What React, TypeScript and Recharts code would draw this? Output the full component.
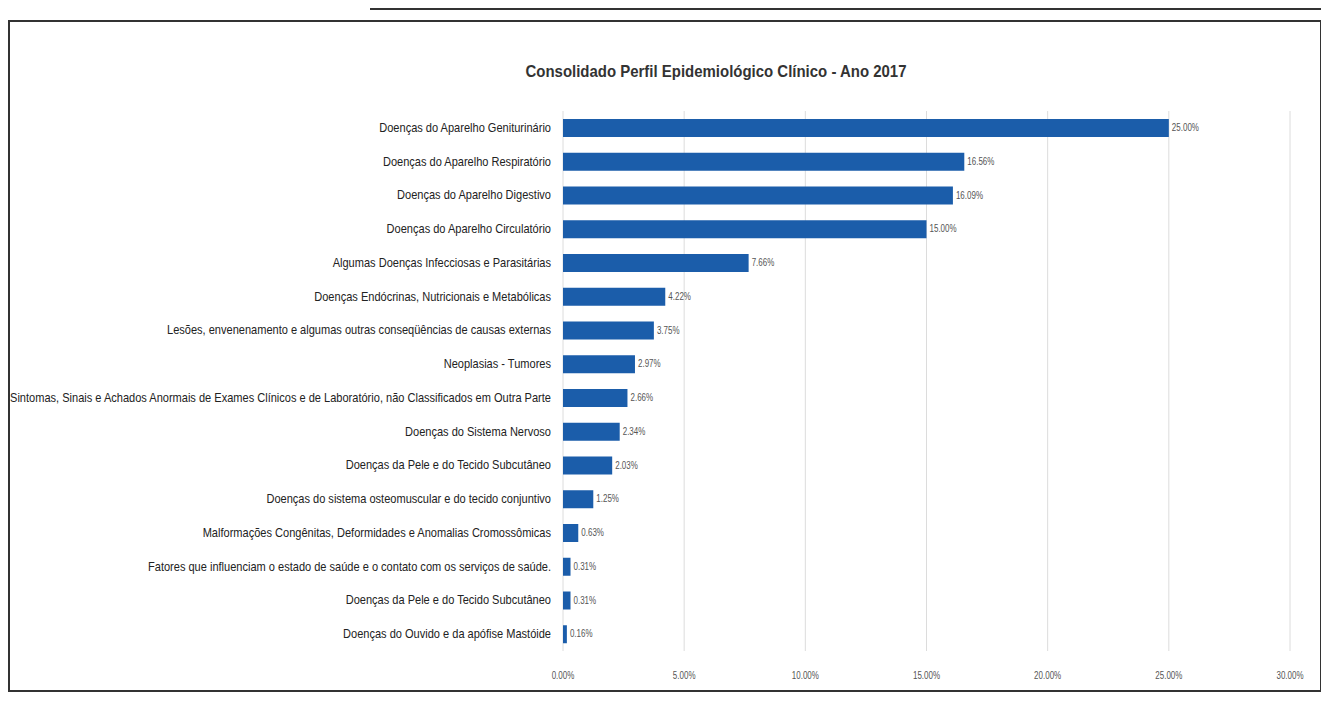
import { BarChart, Bar, XAxis, YAxis, CartesianGrid, LabelList } from 'recharts'

const categories = [
  'Doenças do Aparelho Geniturinário',
  'Doenças do Aparelho Respiratório',
  'Doenças do Aparelho Digestivo',
  'Doenças do Aparelho Circulatório',
  'Algumas Doenças Infecciosas e Parasitárias',
  'Doenças Endócrinas, Nutricionais e Metabólicas',
  'Lesões, envenenamento e algumas outras conseqüências de causas externas',
  'Neoplasias - Tumores',
  'Sintomas, Sinais e Achados Anormais de Exames Clínicos e de Laboratório, não Classificados em Outra Parte',
  'Doenças do Sistema Nervoso',
  'Doenças da Pele e do Tecido Subcutâneo',
  'Doenças do sistema osteomuscular e do tecido conjuntivo',
  'Malformações Congênitas, Deformidades e Anomalias Cromossômicas',
  'Fatores que influenciam o estado de saúde e o contato com os serviços de saúde.',
  'Doenças da Pele e do Tecido Subcutâneo ',
  'Doenças do Ouvido e da apófise Mastóide',
]

const percents = [25.0, 16.56, 16.09, 15.0, 7.66, 4.22, 3.75, 2.97, 2.66, 2.34, 2.03, 1.25, 0.63, 0.31, 0.31, 0.16]

const xTicks = [0, 5, 10, 15, 20, 25, 30]

const data = categories.map((name, i) => ({ name, value: percents[i] }))

const font = '"Liberation Sans", Arial, sans-serif'
const pct = (v: number) => `${Number(v).toFixed(2)}%`

// the scan uses a condensed face, so squeeze the text horizontally
function CatTick({ x, y, payload }: any) {
  return (
    <g transform={`translate(${x - 4},${y}) scale(0.85,1)`}>
      <text textAnchor="end" dy={4} fontSize={13} fill="#222" fontFamily={font}>
        {payload.value}
      </text>
    </g>
  )
}

function PctTick({ x, y, payload }: any) {
  return (
    <g transform={`translate(${x},${y + 16}) scale(0.8,1)`}>
      <text textAnchor="middle" dy={4} fontSize={10} fill="#555" fontFamily={font}>
        {pct(payload.value)}
      </text>
    </g>
  )
}

function ValueLabel({ x, y, width, height, value }: any) {
  return (
    <g transform={`translate(${x + width + 3},${y + height / 2 + 3}) scale(0.8,1)`}>
      <text fontSize={10} fill="#555" fontFamily={font}>
        {pct(value)}
      </text>
    </g>
  )
}

export default function App() {
  return (
    <div style={{ position: 'relative', width: 1313, height: 700, fontFamily: font }}>
      <div style={{ position: 'absolute', left: 362, top: -8, width: 948, height: 8, borderLeft: '2px solid #333', borderRight: '2px solid #333', borderBottom: '2px solid #333', zIndex: 2 }} />
      <div style={{ position: 'absolute', left: 0, top: 12, width: 1310, height: 668, border: '2px solid #333' }} />
      <div style={{ position: 'absolute', left: 0, top: 54, width: 1416, textAlign: 'center', fontSize: 17, fontWeight: 'bold', color: '#333', transform: 'scaleX(0.88)', transformOrigin: '708px 0' }}>
        Consolidado Perfil Epidemiológico Clínico - Ano 2017
      </div>
      <BarChart
        width={1313}
        height={700}
        data={data}
        layout="vertical"
        margin={{ top: 103, right: 31, bottom: 27, left: 0 }}
        style={{ position: 'absolute', left: 0, top: 0 }}
      >
        <CartesianGrid horizontal={false} stroke="#dcdcdc" />
        <XAxis
          type="number"
          domain={[0, 30]}
          ticks={xTicks}
          axisLine={false}
          tickLine={false}
          tick={<PctTick />}
        />
        <YAxis
          type="category"
          dataKey="name"
          width={555}
          axisLine={false}
          tickLine={false}
          interval={0}
          tick={<CatTick />}
        />
        <Bar dataKey="value" fill="#1B5DAA" barSize={18} isAnimationActive={false}>
          <LabelList dataKey="value" content={<ValueLabel />} />
        </Bar>
      </BarChart>
    </div>
  )
}
